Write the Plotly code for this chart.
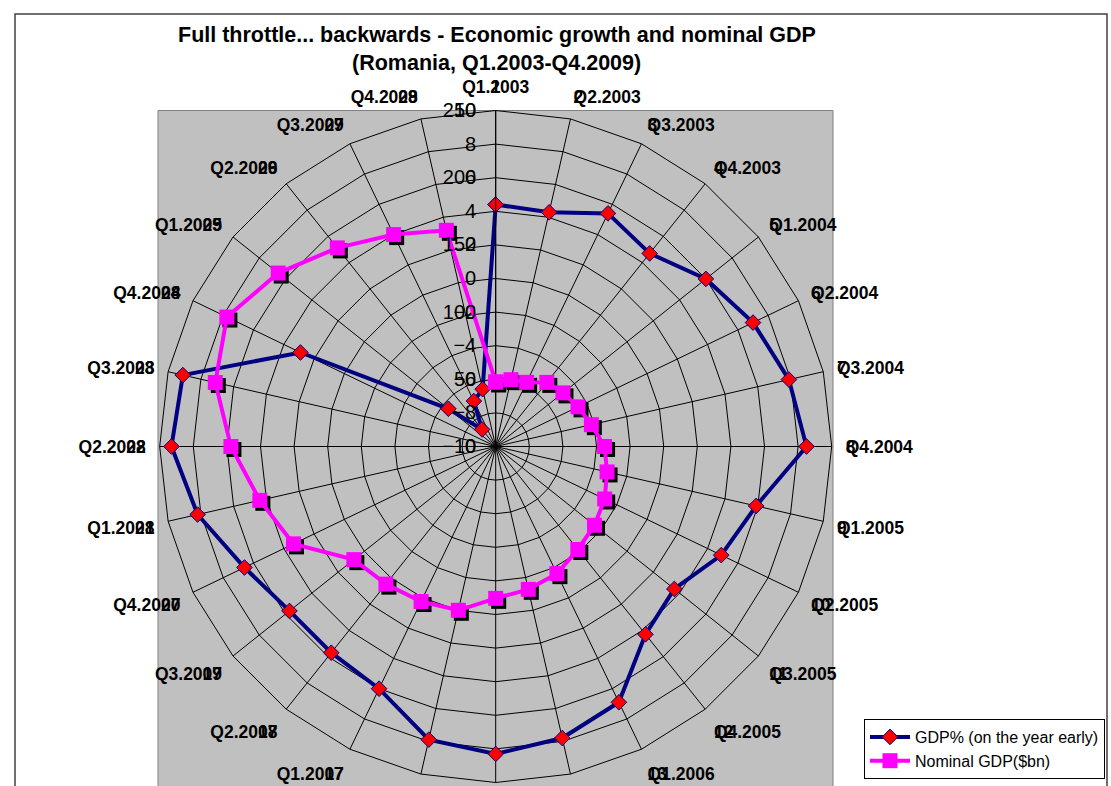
import plotly.graph_objects as go

# ---------------- data ----------------
quarters = [
    "Q1.2003", "Q2.2003", "Q3.2003", "Q4.2003",
    "Q1.2004", "Q2.2004", "Q3.2004", "Q4.2004",
    "Q1.2005", "Q2.2005", "Q3.2005", "Q4.2005",
    "Q1.2006", "Q2.2006", "Q3.2006", "Q4.2006",
    "Q1.2007", "Q2.2007", "Q3.2007", "Q4.2007",
    "Q1.2008", "Q2.2008", "Q3.2008", "Q4.2008",
    "Q1.2009", "Q2.2009", "Q3.2009", "Q4.2009",
]
quarter_numbers = [str(i) for i in range(1, 29)]

gdp_growth = [4.4, 4.3, 5.4, 4.7, 6.0, 7.0, 7.9, 8.5,
              5.9, 4.9, 3.6, 4.3, 6.9, 7.8, 8.3, 7.9,
              6.0, 5.7, 5.7, 6.6, 8.2, 9.3, 9.1, 2.9,
              -6.4, -8.7, -7.0, -6.5]

nominal_gdp = [48, 51, 53, 61, 64, 68, 73, 81,
               85, 90, 94, 98, 105, 109, 113, 125,
               128, 131, 135, 167, 180, 197, 214, 222,
               207, 189, 175, 165]

primary_range = [-10, 10]
secondary_range = [0, 250]

# ---------------- layout helpers ----------------
W, H = 1111, 786
cx, cy, R = 495.7, 446.5, 336.0
SH = 3.0  # marker shadow offset (px)


def dom(cxp, cyp, r):
    return dict(x=[(cxp - r) / W, (cxp + r) / W],
                y=[1 - (cyp + r) / H, 1 - (cyp - r) / H])


FONT = "Arial, Liberation Sans, sans-serif"

# close the loops like the radar chart does
theta_q = quarters + quarters[:1]
theta_n = quarter_numbers + quarter_numbers[:1]
gdp_closed = gdp_growth + gdp_growth[:1]
nom_closed = nominal_gdp + nominal_gdp[:1]

fig = go.Figure()

fig.add_trace(go.Scatterpolar(
    r=gdp_closed, theta=theta_q, subplot="polar",
    mode="lines+markers", name="GDP% (on the year early)", cliponaxis=True,
    line=dict(color="#000080", width=4),
    marker=dict(symbol="diamond", size=12, color="#FF0000",
                line=dict(color="#000080", width=1)),
))

fig.add_trace(go.Scatterpolar(
    r=nominal_gdp, theta=quarter_numbers, subplot="polar2",
    mode="markers", showlegend=False, hoverinfo="skip", cliponaxis=False,
    marker=dict(symbol="square", size=15, color="#000000"),
))

fig.add_trace(go.Scatterpolar(
    r=nom_closed, theta=theta_n, subplot="polar3",
    mode="lines+markers", name="Nominal GDP($bn)", cliponaxis=False,
    line=dict(color="#FF00FF", width=4),
    marker=dict(symbol="square", size=15, color="#FF00FF"),
))

ang_font = dict(family=FONT, size=17.5, color="#000000", weight="bold")
rad_font = dict(family=FONT, size=20, color="#000000")

fig.update_layout(
    width=W, height=H,
    margin=dict(l=0, r=0, t=0, b=0),
    paper_bgcolor="#FFFFFF",
    font=dict(family=FONT, color="#000000"),
    polar=dict(
        domain=dom(cx, cy, R),
        bgcolor="rgba(0,0,0,0)",
        gridshape="linear",
        angularaxis=dict(
            type="category", categoryarray=quarters,
            rotation=90, direction="clockwise",
            showgrid=True, gridcolor="#000000", gridwidth=1,
            showline=True, linecolor="#000000", linewidth=1,
            ticks="outside", ticklen=10, tickcolor="rgba(0,0,0,0)",
            tickfont=ang_font,
        ),
        radialaxis=dict(
            range=primary_range, tick0=-10, dtick=2, angle=90,
            side="counterclockwise", tickangle=90,
            showgrid=True, gridcolor="#000000", gridwidth=1,
            showline=True, linecolor="#000000", linewidth=1,
            ticks="outside", ticklen=12, tickcolor="rgba(0,0,0,0)",
            tickfont=rad_font,
        ),
    ),
    polar2=dict(
        domain=dom(cx + SH, cy + SH, R),
        bgcolor="rgba(0,0,0,0)",
        gridshape="linear",
        angularaxis=dict(
            type="category", categoryarray=quarter_numbers,
            rotation=90, direction="clockwise",
            showgrid=False, showline=False, showticklabels=False, ticks="",
        ),
        radialaxis=dict(range=secondary_range, visible=False),
    ),
    polar3=dict(
        domain=dom(cx, cy, R),
        bgcolor="rgba(0,0,0,0)",
        gridshape="linear",
        angularaxis=dict(
            type="category", categoryarray=quarter_numbers,
            rotation=90, direction="clockwise",
            showgrid=False, showline=False,
            ticks="outside", ticklen=10, tickcolor="rgba(0,0,0,0)",
            tickfont=ang_font,
        ),
        radialaxis=dict(
            range=secondary_range, tick0=0, dtick=50, angle=90,
            side="counterclockwise", tickangle=90,
            showgrid=False, showline=False,
            ticks="outside", ticklen=12, tickcolor="rgba(0,0,0,0)",
            tickfont=rad_font,
        ),
    ),
    legend=dict(
        x=864 / W, y=1 - 719 / H, xanchor="left", yanchor="top",
        bgcolor="#FFFFFF", bordercolor="#000000", borderwidth=1,
        font=dict(family=FONT, size=16, color="#000000"),
        itemwidth=40,
    ),
    shapes=[
        dict(type="rect", xref="paper", yref="paper", layer="below",
             x0=158 / W, x1=833 / W, y0=1 - 800 / H, y1=1 - 110.5 / H,
             fillcolor="#C0C0C0", line=dict(color="#808080", width=1)),
        dict(type="rect", xref="paper", yref="paper", layer="below",
             x0=15 / W, x1=1107 / W, y0=1 - 820 / H, y1=1 - 14 / H,
             fillcolor="rgba(0,0,0,0)", line=dict(color="#404040", width=1.5)),
    ],
    annotations=[
        dict(text="<b>Full throttle... backwards - Economic growth and nominal GDP</b>",
             x=497 / W, y=1 - 35 / H, xref="paper", yref="paper",
             xanchor="center", yanchor="middle", showarrow=False,
             font=dict(family=FONT, size=21.5, color="#000000")),
        dict(text="<b>(Romania, Q1.2003-Q4.2009)</b>",
             x=496 / W, y=1 - 63 / H, xref="paper", yref="paper",
             xanchor="center", yanchor="middle", showarrow=False,
             font=dict(family=FONT, size=21.5, color="#000000")),
    ],
)

fig.write_html("out.html")
